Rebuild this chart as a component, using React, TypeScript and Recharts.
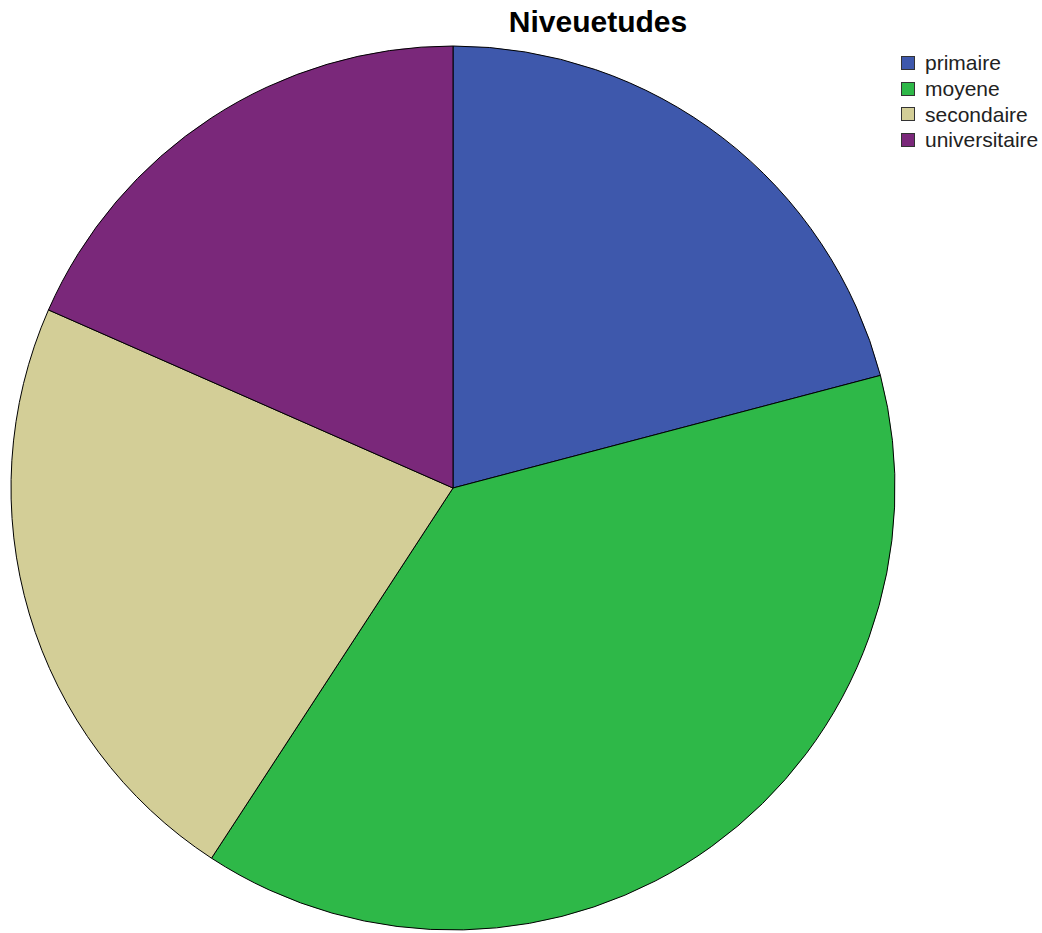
import React from "react";
import { PieChart, Pie, Cell } from "recharts";

const categories = ["primaire", "moyene", "secondaire", "universitaire"];
const values = [20.9, 38.3, 22.4, 18.4];
const colors = ["#3E58AC", "#2EB848", "#D3CE97", "#7A287A"];
const title = "Niveuetudes";

const data = categories.map((name, i) => ({ name, value: values[i] }));

const font = "Liberation Sans, Arial, sans-serif";

export default function App() {
  return (
    <div style={{ position: "absolute", left: 0, top: 0, width: 1042, height: 933, background: "#fff" }}>
      <div
        style={{
          position: "absolute",
          left: 0,
          width: 1196,
          top: 5,
          textAlign: "center",
          fontFamily: font,
          fontWeight: "bold",
          fontSize: 30,
          lineHeight: "34px",
          color: "#000",
        }}
      >
        {title}
      </div>
      <PieChart width={1042} height={933} margin={{ top: 0, right: 0, bottom: 0, left: 0 }}>
        <Pie
          data={data}
          dataKey="value"
          nameKey="name"
          cx={453}
          cy={488}
          outerRadius={442}
          startAngle={90}
          endAngle={-270}
          stroke="#000"
          strokeWidth={1}
          isAnimationActive={false}
        >
          {data.map((d, i) => (
            <Cell key={d.name} fill={colors[i]} />
          ))}
        </Pie>
      </PieChart>
      <div
        style={{
          position: "absolute",
          left: 901,
          top: 50,
          fontFamily: font,
          fontSize: 21,
          color: "#222",
        }}
      >
        {categories.map((c, i) => (
          <div key={c} style={{ display: "flex", alignItems: "center", height: 25.7 }}>
            <span
              style={{
                display: "inline-block",
                width: 12,
                height: 12,
                background: colors[i],
                border: "1.5px solid #333",
                marginRight: 10,
                flexShrink: 0,
              }}
            />
            <span style={{ lineHeight: "21px" }}>{c}</span>
          </div>
        ))}
      </div>
    </div>
  );
}
